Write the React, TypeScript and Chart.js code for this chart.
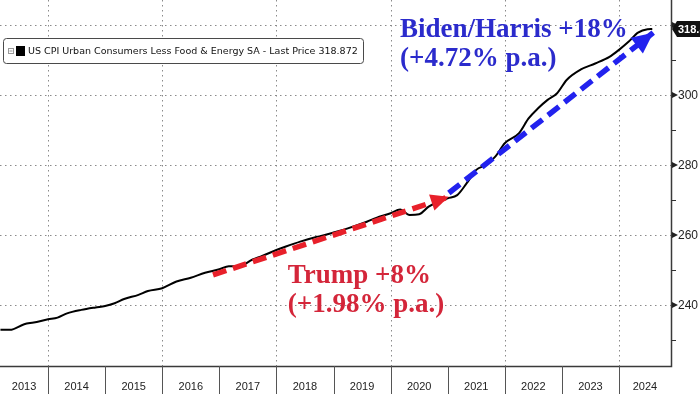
import React, { useEffect, useRef } from "react";
import { Chart, registerables } from "chart.js";

Chart.register(...registerables);

// ---- data ----
const months = [
  "2013-03", "2013-05", "2013-08", "2013-10", "2014-01", "2014-03", "2014-05", "2014-08", "2014-11",
  "2015-01", "2015-03", "2015-05", "2015-08", "2015-10", "2016-01", "2016-04", "2016-07", "2016-10",
  "2017-01", "2017-03", "2017-05", "2017-08", "2017-10", "2018-01", "2018-03", "2018-06", "2018-09",
  "2018-11", "2019-01", "2019-04", "2019-08", "2019-10", "2020-01", "2020-03", "2020-05", "2020-07",
  "2020-09", "2020-11", "2021-01", "2021-03", "2021-05", "2021-07", "2021-09", "2021-11", "2022-01",
  "2022-04", "2022-06", "2022-08", "2022-10", "2022-12", "2023-02", "2023-05", "2023-08", "2023-11",
  "2024-01", "2024-03", "2024-05", "2024-07", "2024-08",
];
const cpiValues = [
  232.9, 232.9, 234.5, 235.0, 235.9, 236.4, 237.6, 238.6, 239.3,
  239.7, 240.5, 241.7, 242.9, 244.0, 244.8, 246.7, 247.8, 249.2,
  250.2, 251.1, 251.0, 253.0, 254.0, 255.7, 256.7, 258.1, 259.3,
  259.9, 260.7, 261.9, 263.8, 264.9, 266.2, 267.3, 265.7, 265.9,
  268.1, 269.5, 270.5, 271.4, 274.8, 278.6, 280.0, 282.4, 286.2,
  289.1, 293.3, 296.2, 298.6, 300.5, 304.3, 307.3, 309.0, 310.9,
  312.9, 315.2, 317.8, 318.8, 318.872,
];
const trumpArrowX = [2016.89, 2021.02];
const trumpArrowY = [248.6, 270.9];
const bidenArrowX = [2021.02, 2024.6];
const bidenArrowY = [272.0, 317.8];

const yearTicks = [2013, 2014, 2015, 2016, 2017, 2018, 2019, 2020, 2021, 2022, 2023, 2024];
const gridYears = [2014, 2016, 2018, 2020, 2022, 2024];
const yMajorTicks = [240, 260, 280, 300, 320];
const yLabelTicks = [240, 260, 280, 300];
const yMinorTicks = [230, 250, 270, 290, 310];

const legendText = "US CPI Urban Consumers Less Food & Energy SA - Last Price 318.872";
const lastPrice = 318.872;
const bidenText = ["Biden/Harris +18%", "(+4.72% p.a.)"];
const trumpText = ["Trump +8%", "(+1.98% p.a.)"];
const bidenTextPos = { x: 2020.165, y: [316.6, 308.3] };
const trumpTextPos = { x: 2018.2, y: [246.3, 238.0] };

const X_MIN = 2013.159;
const X_MAX = 2024.911;
const Y_MIN = 222.57;
const Y_MAX = 327.14;

const toYear = (m: string) => {
  const [y, mo] = m.split("-").map(Number);
  return y + (mo - 1) / 12;
};

const AXIS_FONT = '11px "Liberation Sans Narrow", "Liberation Sans", Arial, sans-serif';

const decorPlugin = {
  id: "decor",
  beforeDatasetsDraw(chart: any) {
    const { ctx, chartArea: a, scales } = chart;
    const xs = scales.x, ys = scales.y;
    ctx.save();
    ctx.strokeStyle = "#8a8a8a";
    ctx.lineWidth = 1;
    ctx.setLineDash([1.5, 3.5]);
    for (const v of yMajorTicks) {
      const y = Math.round(ys.getPixelForValue(v)) + 0.5;
      ctx.beginPath();
      ctx.moveTo(a.left, y);
      ctx.lineTo(a.right, y);
      ctx.stroke();
    }
    for (const yr of gridYears) {
      const x = Math.round(xs.getPixelForValue(yr)) + 0.5;
      ctx.beginPath();
      ctx.moveTo(x, a.top);
      ctx.lineTo(x, a.bottom);
      ctx.stroke();
    }
    ctx.restore();
  },
  afterDatasetsDraw(chart: any) {
    const { ctx } = chart;
    const heads = [
      { idx: 1, color: "#e8202a", len: 18, half: 8.5 },
      { idx: 2, color: "#2222ee", len: 21, half: 10 },
    ];
    ctx.save();
    for (const h of heads) {
      const pts = chart.getDatasetMeta(h.idx).data;
      const p0 = pts[0], p1 = pts[pts.length - 1];
      const dx = p1.x - p0.x, dy = p1.y - p0.y;
      const L = Math.hypot(dx, dy);
      const ux = dx / L, uy = dy / L;
      const bx = p1.x - ux * h.len, by = p1.y - uy * h.len;
      ctx.fillStyle = h.color;
      ctx.beginPath();
      ctx.moveTo(p1.x, p1.y);
      ctx.lineTo(bx - uy * h.half, by + ux * h.half);
      ctx.lineTo(bx + uy * h.half, by - ux * h.half);
      ctx.closePath();
      ctx.fill();
    }
    ctx.restore();
  },
  afterDraw(chart: any) {
    const { ctx, chartArea: a, scales, width, height } = chart;
    const xs = scales.x, ys = scales.y;
    ctx.save();
    // borders
    ctx.strokeStyle = "#3a3a3a";
    ctx.lineWidth = 1.5;
    ctx.beginPath();
    ctx.moveTo(a.left, a.bottom + 0.5);
    ctx.lineTo(a.right + 0.5, a.bottom + 0.5);
    ctx.lineTo(a.right + 0.5, 0);
    ctx.stroke();

    // x separators + labels
    ctx.strokeStyle = "#555";
    ctx.lineWidth = 1;
    ctx.font = AXIS_FONT;
    ctx.fillStyle = "#222";
    ctx.textAlign = "center";
    ctx.textBaseline = "middle";
    for (const yr of yearTicks) {
      const x0 = xs.getPixelForValue(yr);
      if (x0 > a.left && x0 < a.right) {
        const x = Math.round(x0) + 0.5;
        ctx.beginPath();
        ctx.moveTo(x, a.bottom);
        ctx.lineTo(x, height);
        ctx.stroke();
      }
      const l = Math.max(a.left, x0);
      const r = Math.min(a.right, xs.getPixelForValue(yr + 1));
      ctx.fillText(String(yr), (l + r) / 2, a.bottom + 21);
    }

    // y ticks
    ctx.fillStyle = "#222";
    for (const v of yMajorTicks) {
      const y = ys.getPixelForValue(v);
      ctx.beginPath();
      ctx.moveTo(a.right + 1, y - 3);
      ctx.lineTo(a.right + 7, y);
      ctx.lineTo(a.right + 1, y + 3);
      ctx.closePath();
      ctx.fill();
    }
    ctx.strokeStyle = "#333";
    for (const v of yMinorTicks) {
      const y = Math.round(ys.getPixelForValue(v)) + 0.5;
      ctx.beginPath();
      ctx.moveTo(a.right, y);
      ctx.lineTo(a.right + 5, y);
      ctx.stroke();
    }
    ctx.textAlign = "left";
    ctx.font = '12px "Liberation Sans Narrow", "Liberation Sans", Arial, sans-serif';
    for (const v of yLabelTicks) {
      ctx.fillText(String(v), a.right + 7, ys.getPixelForValue(v) + 1);
    }

    // last price box
    const ly = ys.getPixelForValue(lastPrice);
    ctx.fillStyle = "#111";
    ctx.beginPath();
    ctx.moveTo(a.right + 1, ly);
    ctx.lineTo(a.right + 6, ly - 8);
    ctx.lineTo(width + 2, ly - 8);
    ctx.lineTo(width + 2, ly + 8);
    ctx.lineTo(a.right + 6, ly + 8);
    ctx.closePath();
    ctx.fill();
    ctx.fillStyle = "#fff";
    ctx.font = 'bold 11px "Liberation Sans Narrow", "Liberation Sans", Arial, sans-serif';
    ctx.fillText(String(lastPrice), a.right + 7, ly + 1);

    // legend box
    const bx = 3.5, by = 38.5, bw = 360, bh = 25;
    ctx.fillStyle = "#fff";
    ctx.strokeStyle = "#4a4a4a";
    ctx.lineWidth = 1;
    ctx.beginPath();
    (ctx as any).roundRect(bx, by, bw, bh, 3);
    ctx.fill();
    ctx.stroke();
    ctx.strokeStyle = "#999";
    ctx.strokeRect(8.5, 48.5, 5, 5);
    ctx.beginPath();
    ctx.moveTo(9.5, 51);
    ctx.lineTo(12.5, 51);
    ctx.stroke();
    ctx.fillStyle = "#000";
    ctx.fillRect(16, 46, 9, 10);
    let fs = 12;
    ctx.font = `${fs}px "DejaVu Sans", sans-serif`;
    const w = ctx.measureText(legendText).width;
    fs = (fs * 330) / w;
    ctx.font = `${fs.toFixed(2)}px "DejaVu Sans", sans-serif`;
    ctx.fillStyle = "#111";
    ctx.textBaseline = "middle";
    ctx.fillText(legendText, 28, 52);

    // annotations
    ctx.textBaseline = "alphabetic";
    ctx.font = 'bold 27px "Liberation Serif", "Times New Roman", serif';
    ctx.fillStyle = "#2b2bcc";
    bidenText.forEach((t, i) => {
      ctx.fillText(t, xs.getPixelForValue(bidenTextPos.x), ys.getPixelForValue(bidenTextPos.y[i]));
    });
    ctx.fillStyle = "#d4263a";
    trumpText.forEach((t, i) => {
      ctx.fillText(t, xs.getPixelForValue(trumpTextPos.x), ys.getPixelForValue(trumpTextPos.y[i]));
    });
    ctx.restore();
  },
};

export default function App() {
  const ref = useRef<HTMLCanvasElement>(null);
  useEffect(() => {
    document.body.style.margin = "0";
    const canvas = ref.current!;
    const chart = new Chart(canvas, {
      type: "line",
      data: {
        datasets: [
          {
            data: months.map((m, i) => ({ x: toYear(m), y: cpiValues[i] })),
            borderColor: "#000",
            borderWidth: 2,
            pointRadius: 0,
            cubicInterpolationMode: "monotone",
            order: 3,
          },
          {
            data: trumpArrowX.map((x, i) => ({ x, y: trumpArrowY[i] })),
            borderColor: "#e8202a",
            borderWidth: 5.5,
            borderDash: [14, 7],
            pointRadius: 0,
            order: 1,
          },
          {
            data: bidenArrowX.map((x, i) => ({ x, y: bidenArrowY[i] })),
            borderColor: "#2222ee",
            borderWidth: 5.5,
            borderDash: [14, 7],
            pointRadius: 0,
            order: 2,
          },
        ],
      },
      options: {
        responsive: false,
        animation: false,
        layout: { padding: { left: 0, top: 0, right: 29, bottom: 28 } },
        plugins: { legend: { display: false }, tooltip: { enabled: false } },
        scales: {
          x: { type: "linear", min: X_MIN, max: X_MAX, display: false },
          y: { type: "linear", min: Y_MIN, max: Y_MAX, display: false },
        },
      },
      plugins: [decorPlugin],
    } as any);
    return () => chart.destroy();
  }, []);
  return (
    <div style={{ width: 700, height: 394, background: "#fff" }}>
      <canvas ref={ref} width={700} height={394} style={{ display: "block" }} />
    </div>
  );
}
